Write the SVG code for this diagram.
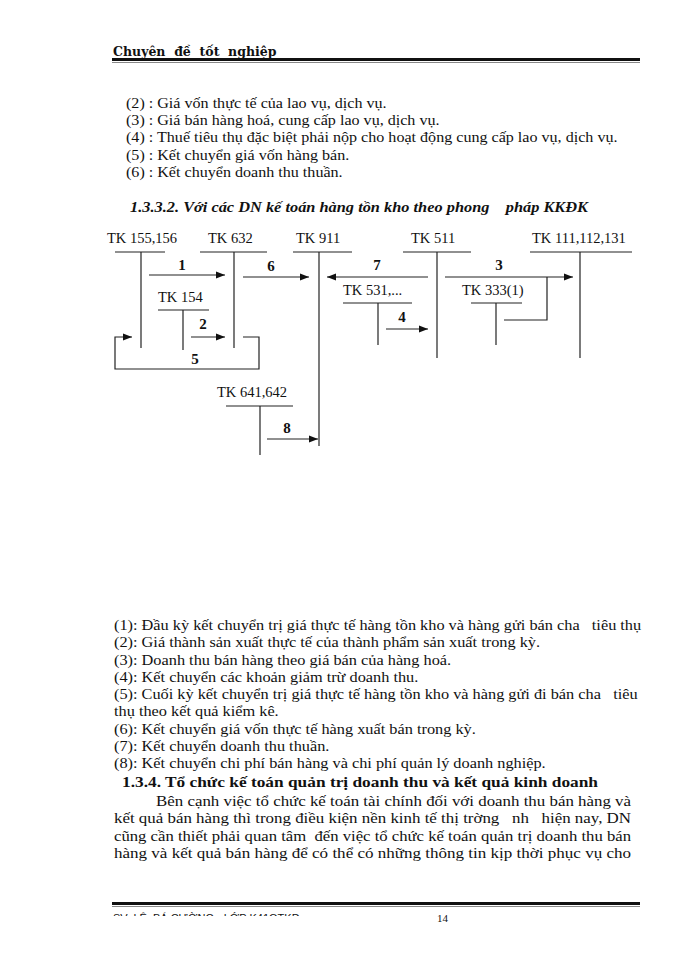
<svg xmlns="http://www.w3.org/2000/svg" width="700" height="960" viewBox="0 0 700 960">
<style>
text{white-space:pre}
.t{font-family:"Liberation Serif","Times New Roman",serif;font-size:15px;fill:#111}
.tk{font-family:"Liberation Serif","Times New Roman",serif;font-size:14.5px;fill:#111}
.n{font-family:"Liberation Serif","Times New Roman",serif;font-size:15px;font-weight:bold;fill:#111;text-anchor:middle}
.ln{stroke:#222;stroke-width:1.2;fill:none}
.ar{stroke:#222;stroke-width:1.2;fill:none;marker-end:url(#ah)}
.hd{font-family:"Liberation Serif","Times New Roman",serif;font-size:15.5px;font-weight:bold;font-style:italic;fill:#111}
.hb{font-family:"Liberation Serif","Times New Roman",serif;font-size:15px;font-weight:bold;fill:#111}
</style>
<defs>
<marker id="ah" markerUnits="userSpaceOnUse" markerWidth="9" markerHeight="8" refX="9" refY="4" orient="auto">
<path d="M0,0.5 L9,4 L0,7.5 z" fill="#111"/>
</marker>
<clipPath id="fclip"><rect x="100" y="905" width="300" height="11"/></clipPath>
</defs>
<rect width="700" height="960" fill="#fff"/>

<g id="header">
<text x="113" y="56" style="font-family:'DejaVu Serif',serif;font-size:12.5px;font-weight:bold;fill:#111">Chuyên  đề  tốt  nghiệp</text>
<rect x="112" y="58" width="528" height="3" fill="#111"/>
<line x1="112" y1="62.5" x2="640" y2="62.5" stroke="#888" stroke-width="1"/>
</g>

<g id="top-notes" transform="translate(126,0) scale(1.073,1) translate(-126,0)">
<text x="126" y="108" class="t">(2) : Giá vốn thực tế của lao vụ, dịch vụ.</text>
<text x="126" y="125" class="t">(3) : Giá bán hàng hoá, cung cấp lao vụ, dịch vụ.</text>
<text x="126" y="142" class="t">(4) : Thuế tiêu thụ đặc biệt phải nộp cho hoạt động cung cấp lao vụ, dịch vụ.</text>
<text x="126" y="160" class="t">(5) : Kết chuyển giá vốn hàng bán.</text>
<text x="126" y="177" class="t">(6) : Kết chuyển doanh thu thuần.</text>
</g>

<text x="130" y="212" class="hd" textLength="458" lengthAdjust="spacingAndGlyphs">1.3.3.2. Với các DN kế toán hàng tồn kho theo phong    pháp KKĐK</text>

<g id="tk155">
<text x="107" y="243" class="tk">TK 155,156</text>
<line x1="115" y1="252" x2="165" y2="252" class="ln"/>
<line x1="141" y1="252" x2="141" y2="348" class="ln"/>
</g>
<g id="tk632">
<text x="208" y="243" class="tk">TK 632</text>
<line x1="200" y1="252" x2="267" y2="252" class="ln"/>
<line x1="234" y1="252" x2="234" y2="348" class="ln"/>
</g>
<g id="tk911">
<text x="296" y="243" class="tk">TK 911</text>
<line x1="293" y1="252" x2="352" y2="252" class="ln"/>
<line x1="319" y1="252" x2="319" y2="446" class="ln"/>
</g>
<g id="tk511">
<text x="411" y="243" class="tk">TK 511</text>
<line x1="403" y1="252" x2="471" y2="252" class="ln"/>
<line x1="437" y1="252" x2="437" y2="358" class="ln"/>
</g>
<g id="tk111">
<text x="532" y="243" class="tk">TK 111,112,131</text>
<line x1="530" y1="252" x2="632" y2="252" class="ln"/>
<line x1="580" y1="252" x2="580" y2="358" class="ln"/>
</g>
<g id="tk154">
<text x="158" y="302" class="tk">TK 154</text>
<line x1="158" y1="310" x2="209" y2="310" class="ln"/>
<line x1="183" y1="310" x2="183" y2="350" class="ln"/>
</g>
<g id="tk531">
<text x="343" y="295" class="tk">TK 531,...</text>
<line x1="343" y1="303" x2="412" y2="303" class="ln"/>
<line x1="378" y1="303" x2="378" y2="345" class="ln"/>
</g>
<g id="tk333">
<text x="462" y="295" class="tk">TK 333(1)</text>
<line x1="471" y1="303" x2="522" y2="303" class="ln"/>
<line x1="496" y1="303" x2="496" y2="345" class="ln"/>
</g>
<g id="tk641">
<text x="217" y="397" class="tk">TK 641,642</text>
<line x1="226" y1="406" x2="293" y2="406" class="ln"/>
<line x1="260" y1="406" x2="260" y2="455" class="ln"/>
</g>

<g id="connectors">
<line x1="149" y1="275" x2="225" y2="275" class="ar"/>
<text x="182" y="270" class="n">1</text>
<line x1="243" y1="277" x2="309" y2="277" class="ar"/>
<text x="271" y="271" class="n">6</text>
<line x1="428" y1="277" x2="327" y2="277" class="ar"/>
<text x="377" y="270" class="n">7</text>
<line x1="445" y1="277" x2="573" y2="277" class="ar"/>
<text x="499" y="270" class="n">3</text>
<path d="M547,277 V320 H504" class="ln"/>
<line x1="191" y1="337" x2="225" y2="337" class="ar"/>
<text x="203" y="329" class="n">2</text>
<line x1="386" y1="329" x2="428" y2="329" class="ar"/>
<text x="402" y="322" class="n">4</text>
<path d="M243,337 H259 V369 H115 V337 H132" class="ar"/>
<text x="195" y="364" class="n">5</text>
<line x1="267" y1="439" x2="318" y2="439" class="ar"/>
<text x="287" y="433" class="n">8</text>
</g>

<g id="legend" transform="translate(114,0) scale(1.087,1) translate(-114,0)">
<text x="114" y="630" class="t">(1): Đầu kỳ kết chuyển trị giá thực tế hàng tồn kho và hàng gửi bán cha   tiêu thụ</text>
<text x="114" y="647" class="t">(2): Giá thành sản xuất thực tế của thành phẩm sản xuất trong kỳ.</text>
<text x="114" y="665" class="t">(3): Doanh thu bán hàng theo giá bán của hàng hoá.</text>
<text x="114" y="682" class="t">(4): Kết chuyển các khoản giảm trừ doanh thu.</text>
<text x="114" y="699" class="t">(5): Cuối kỳ kết chuyển trị giá thực tế hàng tồn kho và hàng gửi đi bán cha   tiêu</text>
<text x="114" y="716" class="t">thụ theo kết quả kiểm kê.</text>
<text x="114" y="734" class="t">(6): Kết chuyển giá vốn thực tế hàng xuất bán trong kỳ.</text>
<text x="114" y="751" class="t">(7): Kết chuyển doanh thu thuần.</text>
<text x="114" y="768" class="t">(8): Kết chuyển chi phí bán hàng và chi phí quản lý doanh nghiệp.</text>
</g>

<g id="section">
<text x="122" y="787" class="hb" textLength="476" lengthAdjust="spacingAndGlyphs">1.3.4. Tổ chức kế toán quản trị doanh thu và kết quả kinh doanh</text>
<text x="156" y="806" class="t" textLength="475" lengthAdjust="spacingAndGlyphs">Bên cạnh việc tổ chức kế toán tài chính đối với doanh thu bán hàng và</text>
<text x="114" y="823" class="t" textLength="517" lengthAdjust="spacingAndGlyphs">kết quả bán hàng thì trong điều kiện nền kinh tế thị trờng   nh   hiện nay, DN</text>
<text x="114" y="841" class="t" textLength="517" lengthAdjust="spacingAndGlyphs">cũng cần thiết phải quan tâm  đến việc tổ chức kế toán quản trị doanh thu bán</text>
<text x="114" y="858" class="t" textLength="517" lengthAdjust="spacingAndGlyphs">hàng và kết quả bán hàng để có thể có những thông tin kịp thời phục vụ cho</text>
</g>

<g id="footer">
<rect x="112" y="902" width="528" height="3" fill="#111"/>
<line x1="112" y1="906.5" x2="640" y2="906.5" stroke="#888" stroke-width="1"/>
<g clip-path="url(#fclip)">
<text x="113" y="922" style="font-family:'Liberation Sans',Arial,sans-serif;font-size:11px;fill:#111">SV: LÊ  BÁ CƯỜNG - LỚP K41QTKD</text>
</g>
<text x="437" y="922" style="font-family:'Liberation Serif',serif;font-size:11px;fill:#111">14</text>
</g>
</svg>
